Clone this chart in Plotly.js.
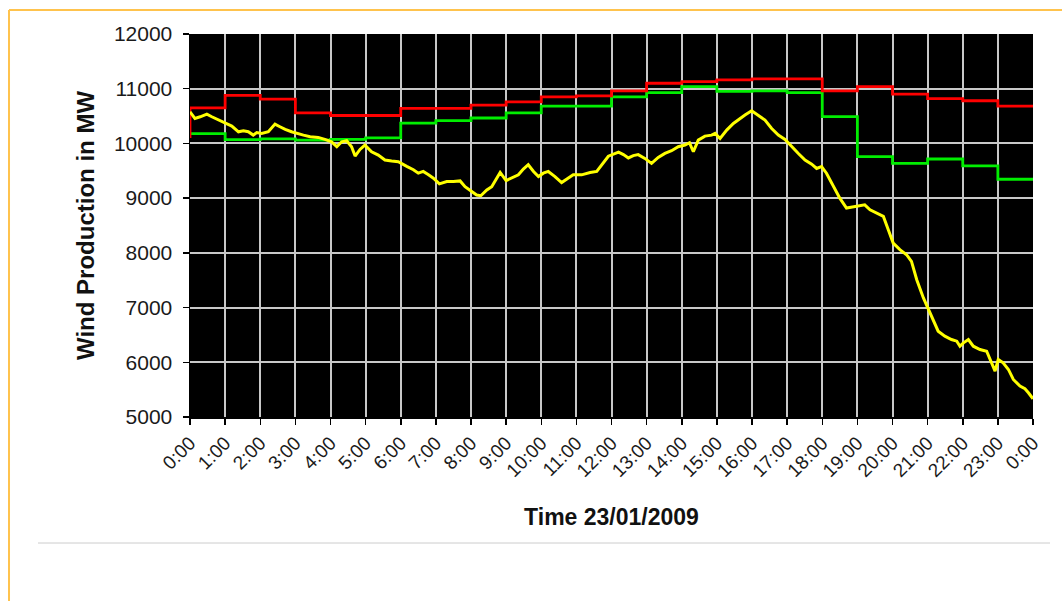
<!DOCTYPE html>
<html>
<head>
<meta charset="utf-8">
<script src="https://cdn.plot.ly/plotly-3.0.1.min.js"></script>
<style>
  html, body { margin: 0; padding: 0; background: #ffffff; }
  #chart { width: 1062px; height: 601px; }
</style>
</head>
<body>
<div id="chart"></div>
<script>
// Hour tick positions and labels
const hourTicks = [0,1,2,3,4,5,6,7,8,9,10,11,12,13,14,15,16,17,18,19,20,21,22,23,24];
const hourLabels = ['0:00','1:00','2:00','3:00','4:00','5:00','6:00','7:00','8:00','9:00','10:00','11:00',
  '12:00','13:00','14:00','15:00','16:00','17:00','18:00','19:00','20:00','21:00','22:00','23:00','0:00'];

// Red step series (hourly), with initial value at 0:00
const redHours = [0,0,1,2,3,4,5,6,7,8,9,10,11,12,13,14,15,16,17,18,19,20,21,22,23,24];
const redValues = [10100,10650,10880,10810,10560,10510,10510,10640,10640,10700,10760,10850,10870,
  10960,11100,11130,11160,11180,11180,10960,11040,10900,10820,10780,10680,10680];

// Green step series (hourly)
const greenHours = [0,1,2,3,4,5,6,7,8,9,10,11,12,13,14,15,16,17,18,19,20,21,22,23,24];
const greenValues = [10180,10070,10085,10060,10075,10100,10370,10415,10465,10560,10680,10680,
  10850,10930,11040,10950,10960,10930,10490,9760,9635,9715,9590,9345,9345];

// Yellow actual production (time in hours)
const yellowHours = [
  0.00,0.14,0.29,0.48,0.62,0.81,1.00,1.19,1.38,1.52,1.66,1.80,1.90,2.04,2.23,2.42,2.56,2.71,2.89,3.04,
  3.23,3.42,3.65,3.84,4.03,4.18,4.32,4.46,4.60,4.70,4.84,4.98,5.17,5.36,5.55,5.74,5.93,
  6.17,6.36,6.50,6.64,6.79,6.93,7.10,7.31,7.50,7.69,7.83,8.02,8.16,8.28,8.45,8.59,8.73,8.83,9.00,9.16,
  9.35,9.49,9.63,9.78,9.92,10.06,10.20,10.39,10.58,10.72,10.91,11.15,11.39,11.58,11.72,11.91,12.20,12.34,
  12.48,12.62,12.76,
  12.95,13.14,13.33,13.52,13.71,13.90,14.09,14.22,14.33,14.47,14.66,14.85,14.95,15.09,15.28,15.47,15.66,
  15.80,15.99,16.18,16.37,16.56,16.75,16.94,17.13,17.32,17.51,17.70,17.84,
  17.98,18.12,18.31,18.50,18.69,18.83,19.02,19.21,19.36,19.55,19.74,19.88,20.02,20.21,20.40,20.54,20.69,
  20.88,21.02,21.16,21.30,21.49,21.68,21.83,21.92,22.02,22.16,22.30,22.49,22.68,22.82,22.92,23.01,23.15,
  23.30,23.44,23.63,23.77,23.87,24.00];
const yellowValues = [
  10578,10457,10487,10536,10487,10426,10378,10317,10213,10231,10213,10152,10200,10183,10213,10353,10305,10256,10213,10183,
  10152,10122,10110,10073,10030,9939,10030,10049,9939,9769,9890,9970,9848,9787,9696,9677,9665,
  9580,9519,9457,9488,9426,9364,9260,9303,9303,9315,9210,9118,9056,9044,9149,9210,9364,9469,9321,9364,
  9426,9531,9611,9488,9395,9457,9488,9395,9284,9346,9426,9426,9469,9488,9611,9766,9840,9796,
  9735,9778,9796,
  9726,9635,9744,9817,9866,9939,9970,10012,9848,10061,10134,10152,10183,10091,10244,10365,10457,
  10518,10597,10518,10426,10274,10152,10073,9939,9817,9696,9622,9543,
  9578,9456,9213,9000,8818,8836,8848,8878,8787,8726,8666,8422,8179,8058,7966,7845,7510,
  7176,6963,6750,6568,6477,6416,6386,6294,6355,6416,6294,6234,6203,5990,5838,6051,5990,
  5869,5686,5565,5516,5443,5334];

const font = 'Arial, "Liberation Sans", sans-serif';

const traces = [
  { x: greenHours, y: greenValues, type: 'scatter', mode: 'lines',
    line: { color: '#00EE00', width: 2.8, shape: 'hv' }, hoverinfo: 'skip' },
  { x: redHours, y: redValues, type: 'scatter', mode: 'lines',
    line: { color: '#FF0000', width: 2.8, shape: 'hv' }, hoverinfo: 'skip' },
  { x: yellowHours, y: yellowValues, type: 'scatter', mode: 'lines',
    line: { color: '#FFFF00', width: 3 }, hoverinfo: 'skip' }
];

const layout = {
  width: 1062, height: 601,
  margin: { l: 190, r: 29, t: 34, b: 184 },
  paper_bgcolor: '#ffffff',
  plot_bgcolor: '#000000',
  showlegend: false,
  font: { family: font, color: '#1a1a1a' },
  xaxis: {
    range: [0, 24], tickmode: 'array', tickvals: hourTicks, ticktext: hourLabels,
    tickangle: -45, tickfont: { size: 19, color: '#1a1a1a' },
    showgrid: true, gridcolor: '#C8C8C8', gridwidth: 2,
    showline: true, linecolor: '#000000', linewidth: 1.5,
    ticks: 'outside', ticklen: 6, tickcolor: '#000000', tickwidth: 1.5,
    zeroline: false, fixedrange: true,
    title: { text: '<b>Time 23/01/2009</b>', font: { size: 23, color: '#111111' }, standoff: 29 }
  },
  yaxis: {
    range: [5000, 12000], tick0: 5000, dtick: 1000, tickformat: 'd',
    tickfont: { size: 21, color: '#1a1a1a' }, ticklabelstandoff: 6,
    showgrid: true, gridcolor: '#C8C8C8', gridwidth: 2,
    showline: true, linecolor: '#000000', linewidth: 1.5,
    ticks: 'outside', ticklen: 6, tickcolor: '#000000', tickwidth: 1.5,
    zeroline: false, fixedrange: true,
    title: { text: '<b>Wind Production in MW</b>', font: { size: 24, color: '#111111' }, standoff: 12 }
  },
  shapes: [
    { type: 'line', xref: 'paper', yref: 'paper', x0: -0.2147, x1: 1.0344, y0: 1.0627, y1: 1.0627,
      line: { color: '#FFC34D', width: 2 }, layer: 'above' },
    { type: 'line', xref: 'paper', yref: 'paper', x0: -0.2147, x1: -0.2147, y0: 1.0627, y1: -0.4804,
      line: { color: '#FFC34D', width: 2 }, layer: 'above' },
    { type: 'line', xref: 'paper', yref: 'paper', x0: -0.1803, x1: 1.0202, y0: -0.329, y1: -0.329,
      line: { color: '#CCCCCC', width: 1 }, layer: 'above' }
  ]
};

Plotly.newPlot('chart', traces, layout, { displayModeBar: false, staticPlot: true });
</script>
</body>
</html>
